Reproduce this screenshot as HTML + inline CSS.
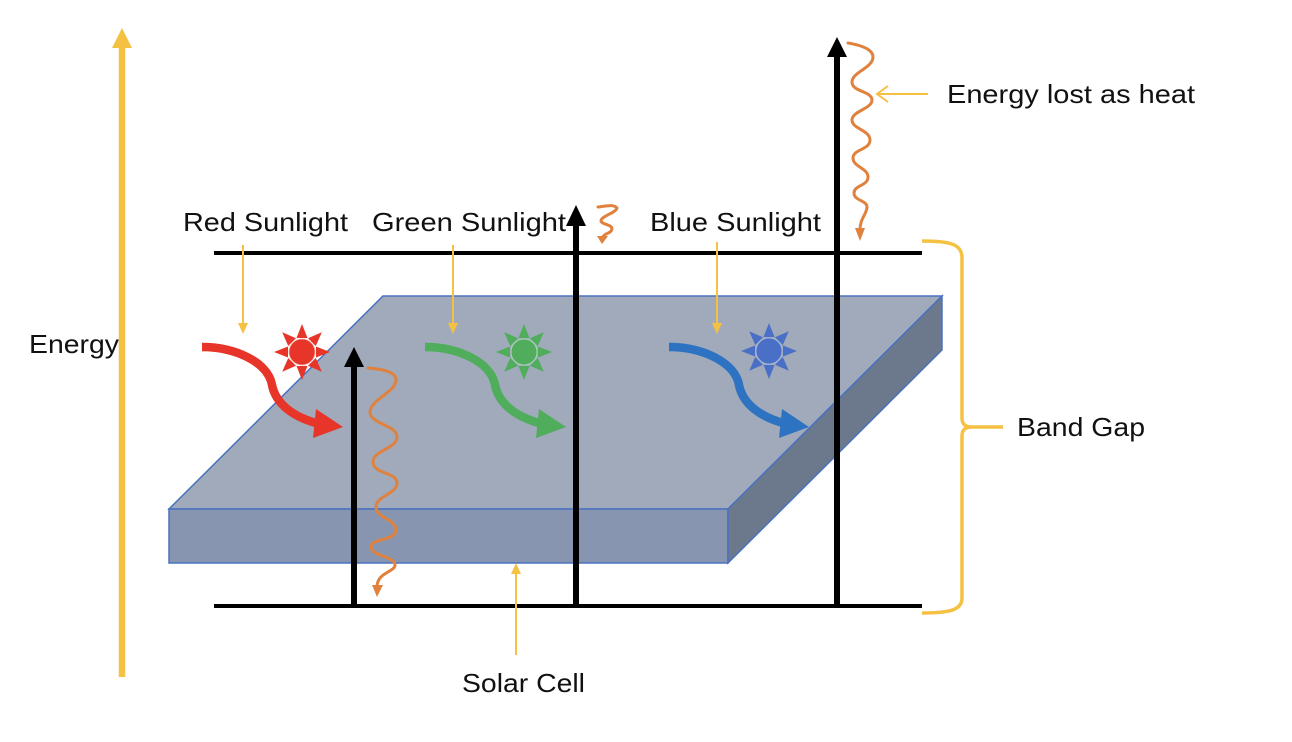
<!DOCTYPE html>
<html><head><meta charset="utf-8"><style>
html,body{margin:0;padding:0;background:#fff;}
svg{display:block;}
text{font-family:"Liberation Sans",Arial,sans-serif;font-size:26px;fill:#111;}
</style></head><body>
<svg width="1292" height="742" viewBox="0 0 1292 742" xmlns="http://www.w3.org/2000/svg">
<!-- Energy axis -->
<line x1="122" y1="677" x2="122" y2="46" stroke="#f5c143" stroke-width="6.5"/>
<polygon points="112,48 132,48 122,28" fill="#f5c143"/>

<!-- band lines -->
<line x1="214" y1="253" x2="922" y2="253" stroke="#000" stroke-width="4"/>
<line x1="214" y1="606" x2="922" y2="606" stroke="#000" stroke-width="4"/>

<!-- slab -->
<polygon points="383,296 942,296 728,509 169,509" fill="#a0aabb" stroke="#4a72c0" stroke-width="1.5"/>
<polygon points="169,509 728,509 728,563 169,563" fill="#8795b0" stroke="#4a72c0" stroke-width="1.5"/>
<polygon points="728,509 942,296 942,350 728,563" fill="#6c788b" stroke="#4a72c0" stroke-width="1.5"/>

<!-- suns -->
<g transform="translate(302,352)" fill="#e8352a">
  <polygon points="-5.5,-14 5.5,-14 0,-28"/>
  <polygon points="-5.5,-14 5.5,-14 0,-28" transform="rotate(45)"/>
  <polygon points="-5.5,-14 5.5,-14 0,-28" transform="rotate(90)"/>
  <polygon points="-5.5,-14 5.5,-14 0,-28" transform="rotate(135)"/>
  <polygon points="-5.5,-14 5.5,-14 0,-28" transform="rotate(180)"/>
  <polygon points="-5.5,-14 5.5,-14 0,-28" transform="rotate(225)"/>
  <polygon points="-5.5,-14 5.5,-14 0,-28" transform="rotate(270)"/>
  <polygon points="-5.5,-14 5.5,-14 0,-28" transform="rotate(315)"/>
  <circle r="13" stroke="#f4b0a8" stroke-width="0.8"/>
</g>
<g transform="translate(524,352)" fill="#50ad5c">
  <polygon points="-5.5,-14 5.5,-14 0,-28"/>
  <polygon points="-5.5,-14 5.5,-14 0,-28" transform="rotate(45)"/>
  <polygon points="-5.5,-14 5.5,-14 0,-28" transform="rotate(90)"/>
  <polygon points="-5.5,-14 5.5,-14 0,-28" transform="rotate(135)"/>
  <polygon points="-5.5,-14 5.5,-14 0,-28" transform="rotate(180)"/>
  <polygon points="-5.5,-14 5.5,-14 0,-28" transform="rotate(225)"/>
  <polygon points="-5.5,-14 5.5,-14 0,-28" transform="rotate(270)"/>
  <polygon points="-5.5,-14 5.5,-14 0,-28" transform="rotate(315)"/>
  <circle r="13" stroke="#b6d9b9" stroke-width="0.8"/>
</g>
<g transform="translate(769,351)" fill="#4a6fc6">
  <polygon points="-5.5,-14 5.5,-14 0,-28"/>
  <polygon points="-5.5,-14 5.5,-14 0,-28" transform="rotate(45)"/>
  <polygon points="-5.5,-14 5.5,-14 0,-28" transform="rotate(90)"/>
  <polygon points="-5.5,-14 5.5,-14 0,-28" transform="rotate(135)"/>
  <polygon points="-5.5,-14 5.5,-14 0,-28" transform="rotate(180)"/>
  <polygon points="-5.5,-14 5.5,-14 0,-28" transform="rotate(225)"/>
  <polygon points="-5.5,-14 5.5,-14 0,-28" transform="rotate(270)"/>
  <polygon points="-5.5,-14 5.5,-14 0,-28" transform="rotate(315)"/>
  <circle r="13" stroke="#a9b8e0" stroke-width="0.8"/>
</g>

<!-- curved sunlight arrows -->
<g fill="none" stroke-width="8.5">
  <path d="M202,347 C235,347 268,362 272,385 C276,405 295,418 320,424" stroke="#e8352a"/>
  <path d="M425,347 C458,347 491,362 495,385 C499,405 518,418 543,424" stroke="#50ad5c"/>
  <path d="M669,347 C702,347 735,362 739,385 C743,405 762,418 787,424" stroke="#2e72c2"/>
</g>
<polygon points="316,409 343,427 313,438" fill="#e8352a"/>
<polygon points="539,409 566,427 536,438" fill="#50ad5c"/>
<polygon points="782,409 809,427 779,438" fill="#2e72c2"/>

<!-- vertical black arrows -->
<line x1="354" y1="606" x2="354" y2="362" stroke="#000" stroke-width="6"/>
<polygon points="344,367 364,367 354,347" fill="#000"/>
<line x1="576" y1="606" x2="576" y2="222" stroke="#000" stroke-width="6"/>
<polygon points="566,226 586,226 576,205" fill="#000"/>
<line x1="837" y1="606" x2="837" y2="52" stroke="#000" stroke-width="6"/>
<polygon points="827,57 847,57 837,37" fill="#000"/>

<!-- heat waves -->
<g fill="none" stroke="#e0823d" stroke-width="3" stroke-linecap="round">
  <path d="M368,368 C380,369 396,371 396,380 C396,392 370,400 370,412 S397,425 397,437 S373,450 373,462 S397,472 397,483 S376,496 376,507 S396,519 396,530 S371,538 371,547 S395,556 395,565 C395,572 378,572 377,586"/>
  <path d="M848,43 C860,45 873,49 873,57 C873,68 852,72 852,82 S872,91 872,100 S852,111 852,120 S870,130 870,140 S853,149 853,158 S868,168 868,177 S854,185 854,193 S867,200 867,207 C867,214 860,218 860,230"/>
  <path d="M598,207 C606,206 614,204 617,208 C616,213 601,216 601,221 C602,225 612,224 612,229 C611,234 604,233 603,237"/>
</g>
<polygon points="372,585 383,585 377,597" fill="#e0823d"/>
<polygon points="855,228 865,228 860,241" fill="#e0823d"/>
<polygon points="597,236 608,236 602,244" fill="#e0823d"/>

<!-- yellow label arrows -->
<g stroke="#f5c143" stroke-width="2" fill="none">
  <line x1="243" y1="245" x2="243" y2="326"/>
  <line x1="453" y1="245" x2="453" y2="326"/>
  <line x1="717" y1="242" x2="717" y2="326"/>
  <line x1="516" y1="655" x2="516" y2="570"/>
  <line x1="928" y1="94" x2="877" y2="94"/>
  <polyline points="888,86 877,94 888,102"/>
</g>
<g fill="#f5c143">
  <polygon points="238,323 248,323 243,334"/>
  <polygon points="448,323 458,323 453,334"/>
  <polygon points="712,323 722,323 717,334"/>
  <polygon points="511,574 521,574 516,563"/>
</g>

<!-- brace -->
<path d="M922,241 C950,241 962,244 962,258 L962,418 C962,424 965,427 972,427 L1003,427 M972,427 C965,427 962,430 962,436 L962,598 C962,610 950,613 922,613" fill="none" stroke="#f5c143" stroke-width="3.5"/>

<!-- labels -->
<text x="183" y="231" textLength="165" lengthAdjust="spacingAndGlyphs">Red Sunlight</text>
<text x="372" y="231" textLength="194" lengthAdjust="spacingAndGlyphs">Green Sunlight</text>
<text x="650" y="231" textLength="171" lengthAdjust="spacingAndGlyphs">Blue Sunlight</text>
<text x="947" y="103" textLength="248" lengthAdjust="spacingAndGlyphs">Energy lost as heat</text>
<text x="29" y="353" textLength="90" lengthAdjust="spacingAndGlyphs">Energy</text>
<text x="1017" y="436" textLength="128" lengthAdjust="spacingAndGlyphs">Band Gap</text>
<text x="462" y="692" textLength="123" lengthAdjust="spacingAndGlyphs">Solar Cell</text>
</svg>
</body></html>
